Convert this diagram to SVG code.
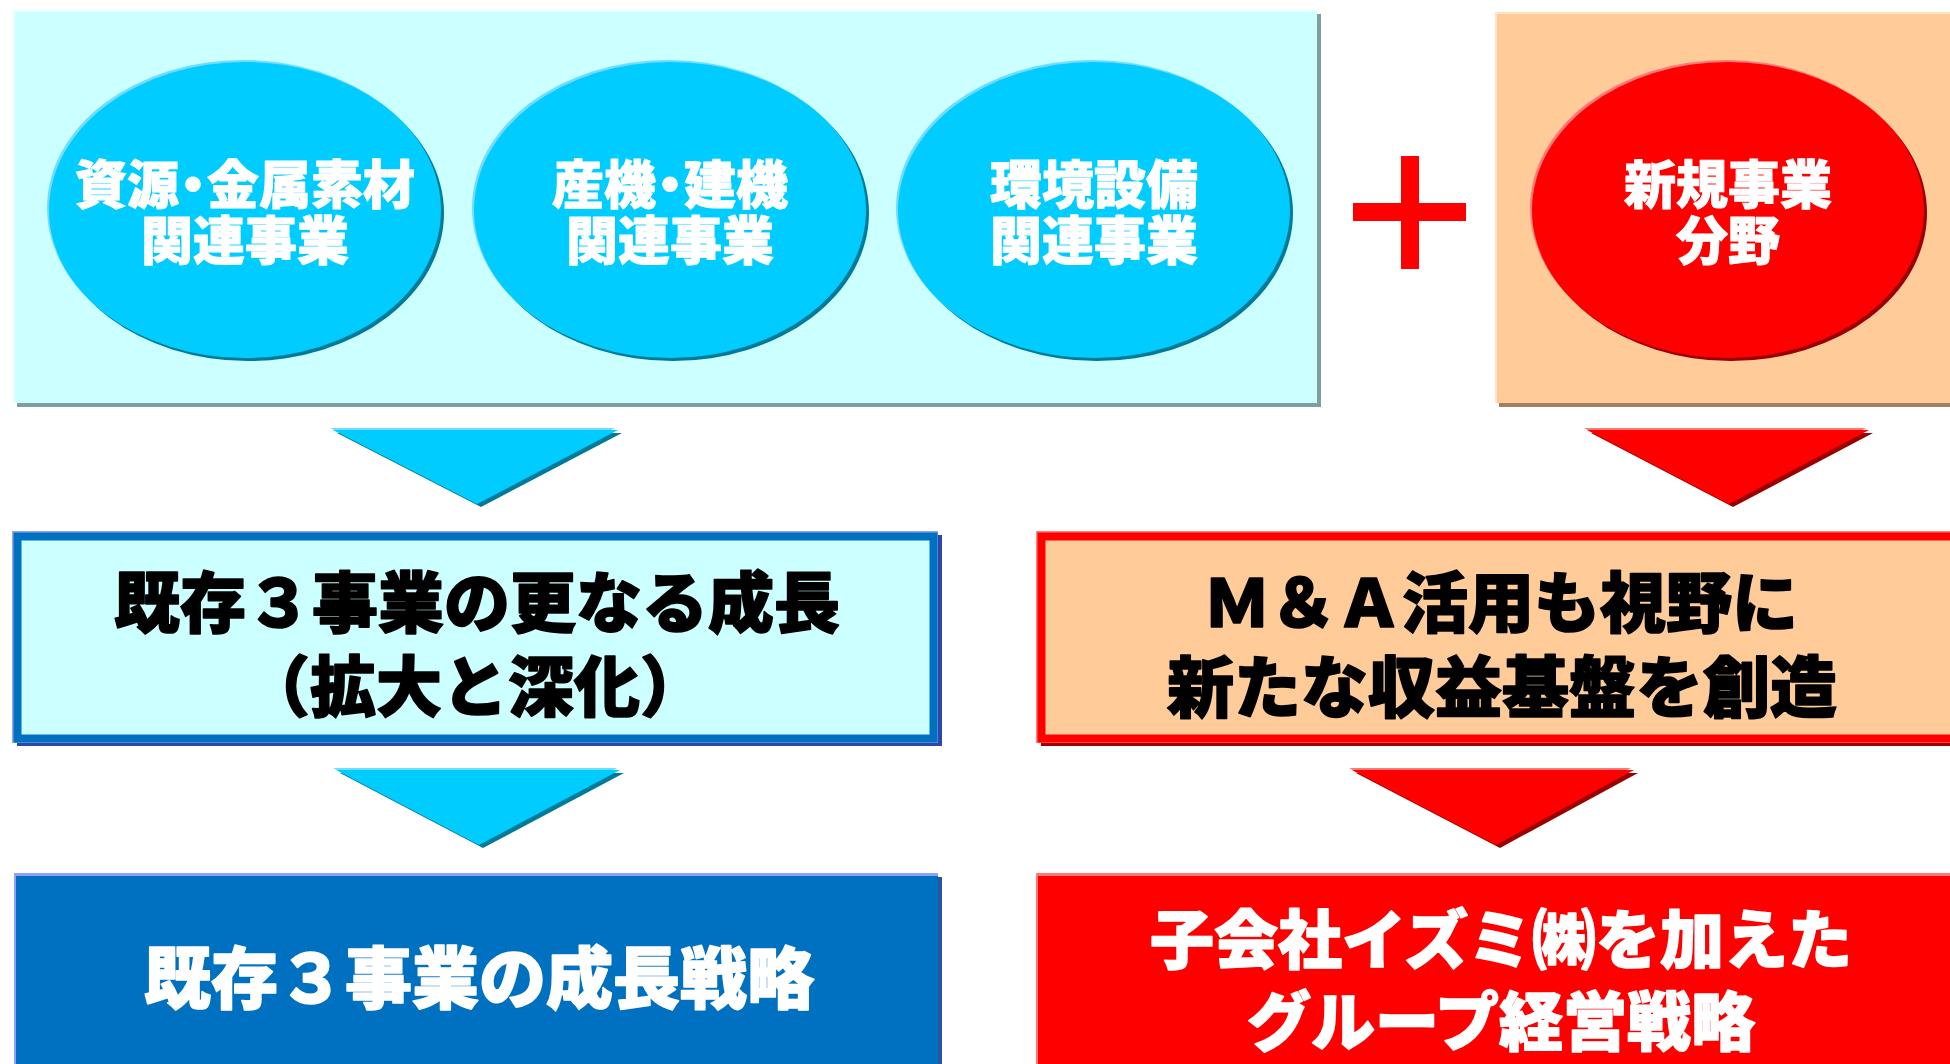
<svg xmlns="http://www.w3.org/2000/svg" width="1950" height="1064" viewBox="0 0 1950 1064">
<style>
  .jp { font-family: "Noto Sans CJK JP", "Noto Sans", sans-serif; font-weight: 900; text-anchor: middle; stroke-linejoin: round; }
  .ell { font-size: 52px; fill: #FFFFFF; stroke: #FFFFFF; stroke-width: 1; }
  .blk { fill: #000000; stroke: #000000; stroke-width: 1.6; }
  .wht { fill: #FFFFFF; stroke: #FFFFFF; stroke-width: 1.6; }
  .bl-sh { fill: #007A99; }
  .bl-hi { fill: #70DDFF; }
  .bl-main { fill: #00CCFF; }
  .rd-sh { fill: #990000; }
  .rd-hi { fill: #FF7777; }
  .rd-main { fill: #FF0000; }
</style>
<rect x="0" y="0" width="1950" height="1064" fill="#FFFFFF"/>

<g id="panel-existing">
  <rect x="17" y="14" width="1304" height="393" fill="#7F9F9F"/>
  <rect x="13" y="10" width="1304" height="393" fill="#E6FFFF"/>
  <rect x="15" y="12" width="1302" height="391" fill="#CCFFFF"/>
</g>

<g id="panel-new">
  <rect x="1499" y="16" width="470" height="391" fill="#A08060"/>
  <rect x="1495" y="12" width="470" height="391" fill="#FFE3C8"/>
  <rect x="1497" y="14" width="468" height="389" fill="#FFCC99"/>
</g>

<g id="node-resource">
  <ellipse cx="248" cy="213" rx="196" ry="148" class="bl-sh"/>
  <ellipse cx="243" cy="208" rx="196" ry="148" class="bl-hi"/>
  <ellipse cx="245" cy="210" rx="196" ry="148" class="bl-main"/>
  <text class="jp ell"><tspan x="245" y="204">資源<tspan dx="-12">・</tspan><tspan dx="-12">金属素材</tspan></tspan><tspan x="245" y="260">関連事業</tspan></text>
</g>

<g id="node-machinery">
  <ellipse cx="673" cy="213" rx="196" ry="148" class="bl-sh"/>
  <ellipse cx="668" cy="208" rx="196" ry="148" class="bl-hi"/>
  <ellipse cx="670" cy="210" rx="196" ry="148" class="bl-main"/>
  <text class="jp ell"><tspan x="670" y="204">産機<tspan dx="-12">・</tspan><tspan dx="-12">建機</tspan></tspan><tspan x="670" y="260">関連事業</tspan></text>
</g>

<g id="node-environment">
  <ellipse cx="1097" cy="213" rx="196" ry="148" class="bl-sh"/>
  <ellipse cx="1092" cy="208" rx="196" ry="148" class="bl-hi"/>
  <ellipse cx="1094" cy="210" rx="196" ry="148" class="bl-main"/>
  <text class="jp ell"><tspan x="1094" y="204">環境設備</tspan><tspan x="1094" y="260">関連事業</tspan></text>
</g>

<g id="plus-sign">
  <rect x="1401" y="156" width="18" height="113" fill="#FF0000"/>
  <rect x="1353" y="203" width="113" height="18" fill="#FF0000"/>
</g>

<g id="node-new-business">
  <ellipse cx="1731" cy="213" rx="196" ry="148" class="rd-sh"/>
  <ellipse cx="1726" cy="208" rx="196" ry="148" class="rd-hi"/>
  <ellipse cx="1728" cy="210" rx="196" ry="148" class="rd-main"/>
  <text class="jp ell"><tspan x="1728" y="204">新規事業</tspan><tspan x="1728" y="260">分野</tspan></text>
</g>

<g id="connectors">
  <polygon points="330,428 615,428 474,502" class="bl-hi"/>
  <polygon points="337,433 622,433 481,507" class="bl-sh"/>
  <polygon points="333,430 618,430 477,504" class="bl-main"/>

  <polygon points="333,768 617,768 476,843" class="bl-hi"/>
  <polygon points="340,773 624,773 483,848" class="bl-sh"/>
  <polygon points="336,770 620,770 479,845" class="bl-main"/>

  <polygon points="1584,428 1866,428 1726,502" class="rd-hi"/>
  <polygon points="1591,433 1873,433 1733,507" class="rd-sh"/>
  <polygon points="1587,430 1869,430 1729,504" class="rd-main"/>

  <polygon points="1349,768 1631,768 1493,843" class="rd-hi"/>
  <polygon points="1356,773 1638,773 1500,848" class="rd-sh"/>
  <polygon points="1352,770 1634,770 1496,845" class="rd-main"/>
</g>

<g id="node-growth-existing">
  <rect x="17" y="535" width="925" height="211" fill="#2B48A8"/>
  <rect x="12" y="531" width="926" height="212" fill="#95A5EE"/>
  <rect x="17.5" y="536.5" width="916" height="202" fill="#CCFFFF" stroke="#0070C0" stroke-width="8"/>
  <text class="jp blk" font-size="66"><tspan x="477" y="627">既存３事業の更なる成長</tspan><tspan x="475" y="711">（拡大と深化）</tspan></text>
</g>

<g id="node-ma">
  <rect x="1041" y="535" width="925" height="211" fill="#A00000"/>
  <rect x="1036" y="531" width="926" height="212" fill="#FF8080"/>
  <rect x="1041.5" y="536.5" width="930" height="202" fill="#FFCC99" stroke="#FF0000" stroke-width="8"/>
  <text class="jp blk" font-size="66"><tspan x="1501" y="627">Ｍ＆Ａ活用も視野に</tspan><tspan x="1502" y="712" font-size="67">新たな収益基盤を創造</tspan></text>
</g>

<g id="node-strategy-existing">
  <rect x="18" y="877" width="924" height="200" fill="#2B55A0"/>
  <rect x="14" y="873" width="924" height="200" fill="#8FA0FF"/>
  <rect x="16" y="876" width="922" height="200" fill="#0070C0"/>
  <text class="jp wht" x="479" y="1003" font-size="67">既存３事業の成長戦略</text>
</g>

<g id="node-strategy-group">
  <rect x="1036" y="873" width="930" height="200" fill="#FF7777"/>
  <rect x="1038" y="876" width="930" height="200" fill="#FF0000"/>
  <text class="jp wht" font-size="64"><tspan x="1501" y="963">子会社イズミ㈱を加えた</tspan><tspan x="1501" y="1045">グループ経営戦略</tspan></text>
</g>
</svg>
